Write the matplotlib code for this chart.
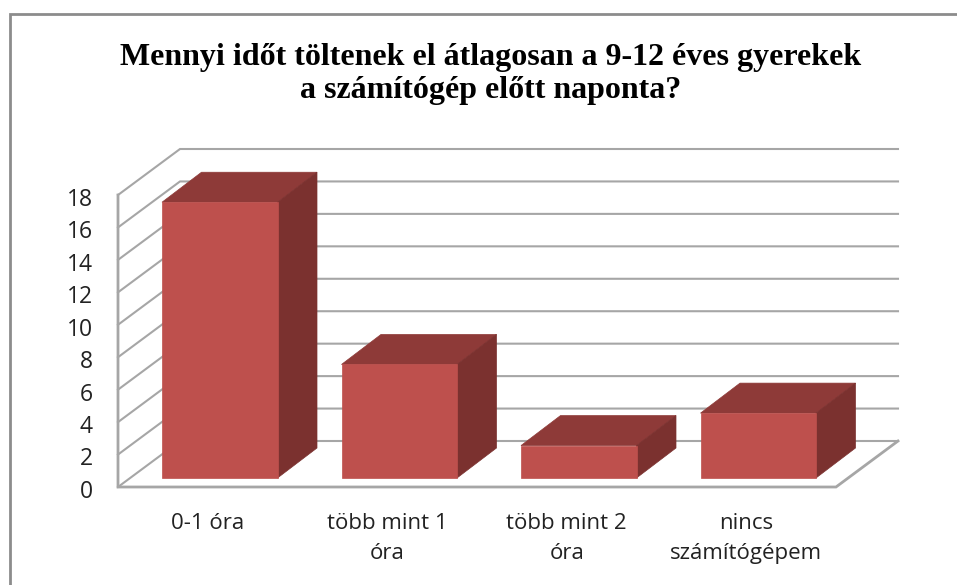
import matplotlib
matplotlib.use('Agg')
import matplotlib.pyplot as plt
from matplotlib.patches import Polygon

categories = ['0-1 óra', 'több mint 1\nóra', 'több mint 2\nóra', 'nincs\nszámítógépem']
values = [17, 7, 2, 4]
yticks = [0, 2, 4, 6, 8, 10, 12, 14, 16, 18]
title = 'Mennyi időt töltenek el átlagosan a 9-12 éves gyerekek\na számítógép előtt naponta?'

W, H = 957, 585
GRID = '#a6a6a6'
FRONT = '#be504d'
TOP = '#8e3a38'
SIDE = '#7b312f'

fig = plt.figure(figsize=(W / 100, H / 100), dpi=100)

# front plane of the 3d box, everything else is sheared off this
left, right, bottom, top = 118, 836, 487, 195
ax = fig.add_axes([left / W, 1 - bottom / H, (right - left) / W, (bottom - top) / H])
ax.set_xlim(0, 4)
ax.set_ylim(0, 18)
ax.axis('off')

xu = (right - left) / 4
yu = (bottom - top) / 18
wall_dx, wall_dy = 62 / xu, 46 / yu
front_dx, front_dy = 12 / xu, 9 / yu
bar_dx, bar_dy = 39.5 / xu, 30 / yu
bar_w = 115.5 / xu

for t in yticks:
    ax.plot([0, wall_dx, 4 + wall_dx], [t, t + wall_dy, t + wall_dy], color=GRID, lw=1.5,
            clip_on=False, zorder=1, solid_joinstyle='miter')
    ax.text(-0.14, t - 0.3, str(t), ha='right', va='center', fontsize=16.5,
            family='Open Sans', color='#222222')

# floor and left edge
ax.plot([0, 0, 4, 4 + wall_dx], [18, 0, 0, wall_dy], color=GRID, lw=2, clip_on=False, zorder=1,
        solid_joinstyle='miter')

for i, v in enumerate(values):
    x0 = i + 0.5 - bar_w / 2 + front_dx
    x1 = x0 + bar_w
    y0 = front_dy
    y1 = v + y0
    # same colour edge, otherwise light seams show between the faces
    ax.add_patch(Polygon([(x0, y1), (x1, y1), (x1 + bar_dx, y1 + bar_dy), (x0 + bar_dx, y1 + bar_dy)],
                         fc=TOP, ec=TOP, lw=0.5, clip_on=False, zorder=3))
    ax.add_patch(Polygon([(x1, y0), (x1 + bar_dx, y0 + bar_dy), (x1 + bar_dx, y1 + bar_dy), (x1, y1)],
                         fc=SIDE, ec=SIDE, lw=0.5, clip_on=False, zorder=3))
    ax.add_patch(Polygon([(x0, y0), (x1, y0), (x1, y1), (x0, y1)], fc=FRONT, ec=FRONT, lw=0.5,
                         clip_on=False, zorder=4))
    ax.text(i + 0.5, -1.62, categories[i], ha='center', va='top', fontsize=16,
            family='Open Sans', color='#222222', linespacing=1.55)

# title and outer frame in figure coordinates
fig.text(491 / W, 1 - 74 / H, title, ha='center', va='center', fontsize=23, weight='bold',
         family='Liberation Serif', color='black', linespacing=1.17)
fig.add_artist(plt.Line2D(
    [9.5 / W, 9.5 / W, 1], [0, 1 - 14 / H, 1 - 14 / H],
    color='#8c8c8c', lw=2, solid_joinstyle='miter'))

fig.savefig('out.png', dpi=100)
